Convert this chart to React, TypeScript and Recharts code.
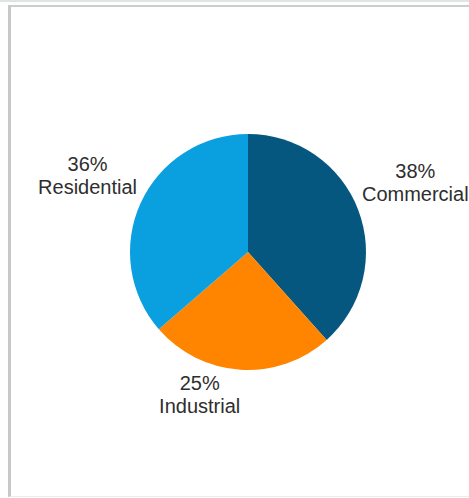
import React from "react";
import { PieChart, Pie, Cell } from "recharts";

const sectors = ["Commercial", "Industrial", "Residential"];
const shares = [38, 25, 36];
const colors = ["#05577f", "#ff8500", "#0aa0e0"];

const data = sectors.map((name, i) => ({ name, value: shares[i] }));

const FONT = '"Liberation Sans", Arial, sans-serif';
const FONT_SIZE = 20;
const LINE = 23;
const RAD = Math.PI / 180;

let ctx: CanvasRenderingContext2D | null = null;
function textWidth(s: string): number {
  if (!ctx) ctx = document.createElement("canvas").getContext("2d");
  if (!ctx) return s.length * FONT_SIZE * 0.55;
  ctx.font = `${FONT_SIZE}px ${FONT}`;
  return ctx.measureText(s).width;
}

// Label block sits just outside the slice, with its nearest corner on the slice's mid ray.
function renderLabel(props: any) {
  const { cx, cy, midAngle, outerRadius, percent, name } = props;
  const dx = Math.cos(-midAngle * RAD);
  const dy = Math.sin(-midAngle * RAD);
  const px = cx + (outerRadius + 4) * dx;
  const py = cy + (outerRadius + 4) * dy;
  const pct = `${Math.round(percent * 99)}%`;
  const w = Math.max(textWidth(pct), textWidth(name));
  const h = LINE * 2;
  const x = px + (dx >= 0 ? w / 2 : -w / 2);
  const top = dy > 0 ? py : py - h;
  return (
    <text
      x={x}
      y={top}
      textAnchor="middle"
      fill="#2e2e2e"
      style={{ fontFamily: FONT, fontSize: FONT_SIZE }}
    >
      <tspan x={x} y={top + 16}>{pct}</tspan>
      <tspan x={x} y={top + 16 + LINE}>{name}</tspan>
    </text>
  );
}

export default function App() {
  return (
    <div style={{ position: "absolute", left: 0, top: 0, width: 469, height: 498, background: "#fff", overflow: "hidden" }}>
      <div style={{ position: "absolute", left: 0, top: 0, width: 469, height: 2, background: "#dfe4e7" }} />
      <div
        style={{
          position: "absolute",
          left: 8,
          top: 5,
          width: 480,
          height: 492,
          borderTop: "2px solid #cdcdcd",
          borderLeft: "3px solid #c8c8c8",
          borderBottom: "1px solid #ececec",
          boxSizing: "border-box",
        }}
      />
      <div style={{ position: "absolute", left: 0, top: 0 }}>
        <PieChart width={469} height={498} margin={{ top: 0, right: 0, bottom: 0, left: 0 }}>
          <Pie
            data={data}
            dataKey="value"
            nameKey="name"
            cx={248}
            cy={252}
            outerRadius={118}
            startAngle={90}
            endAngle={-270}
            stroke="none"
            labelLine={false}
            label={renderLabel}
            isAnimationActive={false}
          >
            {data.map((d, i) => (
              <Cell key={d.name} fill={colors[i]} />
            ))}
          </Pie>
        </PieChart>
      </div>
    </div>
  );
}
